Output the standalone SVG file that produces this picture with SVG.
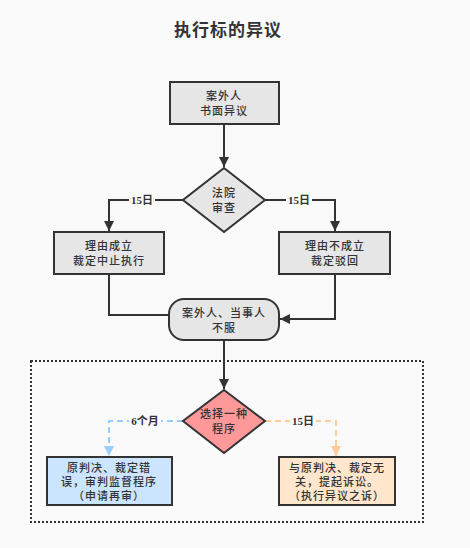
<svg xmlns="http://www.w3.org/2000/svg" width="470" height="548" viewBox="0 0 470 548">
<defs>
<style>
.t{font-family:"Liberation Serif","Noto Sans CJK SC",serif;font-size:11px;font-weight:500;fill:#333;text-anchor:middle;letter-spacing:1px}
.title{font-family:"Liberation Serif","Noto Sans CJK SC",serif;font-size:17px;font-weight:bold;fill:#333;text-anchor:middle;letter-spacing:1px}
.lbl{font-family:"Liberation Serif","Noto Sans CJK SC",serif;font-size:11px;font-weight:bold;fill:#333;text-anchor:middle}
.box{fill:#e6e6e6;stroke:#333;stroke-width:2}
.e{fill:none;stroke:#333;stroke-width:2}
.eb{fill:none;stroke:#99ccff;stroke-width:2;stroke-dasharray:6 4}
.eo{fill:none;stroke:#ffcc99;stroke-width:2;stroke-dasharray:6 4}
</style>
<marker id="a" viewBox="0 0 10 10" refX="10" refY="5" markerWidth="6" markerHeight="5" orient="auto" markerUnits="strokeWidth"><path d="M0,0 L10,5 L0,10 z" fill="#333"/></marker>
<marker id="ab" viewBox="0 0 10 10" refX="10" refY="5" markerWidth="6" markerHeight="5" orient="auto" markerUnits="strokeWidth"><path d="M0,0 L10,5 L0,10 z" fill="#99ccff"/></marker>
<marker id="ao" viewBox="0 0 10 10" refX="10" refY="5" markerWidth="6" markerHeight="5" orient="auto" markerUnits="strokeWidth"><path d="M0,0 L10,5 L0,10 z" fill="#ffcc99"/></marker>
</defs>
<rect x="0" y="0" width="470" height="548" fill="#fafafa"/>
<text class="title" x="228" y="36">执行标的异议</text>
<rect x="31" y="361" width="392" height="161" fill="none" stroke="#333" stroke-width="2" stroke-dasharray="2 2"/>
<g id="edges">
<path class="e" d="M224,124 V167" marker-end="url(#a)"/>
<path class="e" d="M183,200 H109 V231" marker-end="url(#a)"/>
<path class="e" d="M265,200 H335 V231" marker-end="url(#a)"/>
<path class="e" d="M109,274 V315 H169"/>
<path class="e" d="M335,274 V319 H280" marker-end="url(#a)"/>
<path class="e" d="M224,340 V389" marker-end="url(#a)"/>
<path class="eb" d="M183,421 H109 V456" marker-end="url(#ab)"/>
<path class="eo" d="M265,421 H336 V456" marker-end="url(#ao)"/>
<rect x="129" y="193" width="26" height="14" fill="#fafafa"/>
<text class="lbl" x="142" y="204">15日</text>
<rect x="286" y="193" width="26" height="14" fill="#fafafa"/>
<text class="lbl" x="299" y="204">15日</text>
<rect x="129" y="414" width="32" height="14" fill="#fafafa"/>
<text class="lbl" x="145" y="425">6个月</text>
<rect x="290" y="414" width="26" height="14" fill="#fafafa"/>
<text class="lbl" x="303" y="425">15日</text>
</g>
<g id="n1"><rect class="box" x="170" y="82" width="109" height="42"/><text class="t" x="224" y="100">案外人</text><text class="t" x="224" y="115">书面异议</text></g>
<g id="n2"><path class="box" d="M224,168 L265,200 L224,232 L183,200 z"/><text class="t" x="224" y="197">法院</text><text class="t" x="224" y="212">审查</text></g>
<g id="n3"><rect class="box" x="54" y="232" width="110" height="42"/><text class="t" x="109" y="250">理由成立</text><text class="t" x="109" y="265">裁定中止执行</text></g>
<g id="n4"><rect class="box" x="279" y="232" width="111" height="42"/><text class="t" x="335" y="250">理由不成立</text><text class="t" x="335" y="265">裁定驳回</text></g>
<g id="n5"><rect class="box" x="169" y="299" width="110" height="41" rx="15" ry="15"/><text class="t" x="224" y="317">案外人、当事人</text><text class="t" x="224" y="332">不服</text></g>
<g id="n6"><path d="M224,390 L265,421 L224,453 L183,421 z" fill="#ff9999" stroke="#333" stroke-width="2"/><text class="t" x="224" y="418">选择一种</text><text class="t" x="224" y="433">程序</text></g>
<g id="n7"><rect x="47" y="457" width="125" height="48" fill="#cce5ff" stroke="#333" stroke-width="2"/><text class="t" x="109" y="472">原判决、裁定错</text><text class="t" x="109" y="486">误，审判监督程序</text><text class="t" x="109" y="500">（申请再审）</text></g>
<g id="n8"><rect x="279" y="457" width="116" height="48" fill="#ffe6cc" stroke="#333" stroke-width="2"/><text class="t" x="337" y="472">与原判决、裁定无</text><text class="t" x="337" y="486">关，提起诉讼。</text><text class="t" x="337" y="500">（执行异议之诉）</text></g>
</svg>
